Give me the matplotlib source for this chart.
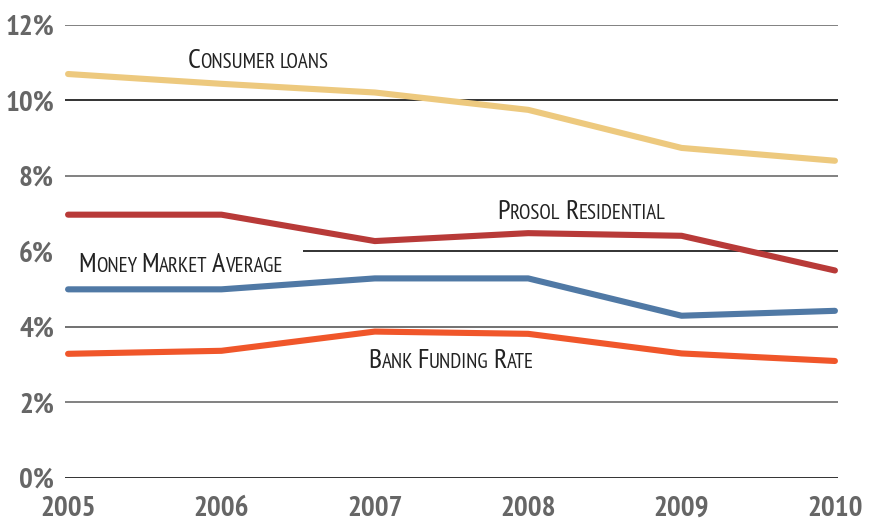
import matplotlib
matplotlib.use("Agg")
import matplotlib.pyplot as plt
from matplotlib.offsetbox import TextArea, HPacker, AnnotationBbox

years = [2005, 2006, 2007, 2008, 2009, 2010]
consumer_loans = [10.70, 10.44, 10.21, 9.75, 8.74, 8.40]
prosol_residential = [6.97, 6.97, 6.27, 6.48, 6.41, 5.49]
money_market = [4.99, 4.99, 5.28, 5.28, 4.29, 4.42]
bank_funding = [3.28, 3.36, 3.87, 3.81, 3.29, 3.09]
y_ticks = [0, 2, 4, 6, 8, 10, 12]
y_tick_labels = ["0%", "2%", "4%", "6%", "8%", "10%", "12%"]

FONT = "PT Sans Narrow"

fig = plt.figure(figsize=(8.73, 5.22), dpi=100)
ax = fig.add_axes([65 / 873, 1 - 477.5 / 522, (838 - 65) / 873, (477.5 - 25) / 522])
ax.set_xlim(2005 - 0.02, 2010 + 0.02)
ax.set_ylim(0, 12)
for s in ax.spines.values():
    s.set_visible(False)

# gridlines (the 6% one stops short where the label sits)
grid_colors = {0: "#222222", 2: "#777777", 4: "#666666", 6: "#222222",
               8: "#777777", 10: "#222222", 12: "#777777"}
for v in y_ticks:
    start = 2006.53 if v == 6 else 2005 - 0.02
    ax.hlines(v, start, 2010 + 0.02, color=grid_colors[v], lw=1.3, zorder=1)

series = [
    (consumer_loans, "#EDC97E"),
    (prosol_residential, "#B83A38"),
    (money_market, "#5079A5"),
    (bank_funding, "#F0562A"),
]
for vals, col in series:
    ax.plot(years, vals, color=col, lw=4.4, solid_capstyle="round",
            solid_joinstyle="round", zorder=3)

ax.set_yticks(y_ticks)
ax.set_yticklabels(y_tick_labels)
ax.set_xticks(years)
ax.set_xticklabels([str(y) for y in years])
ax.tick_params(axis="both", length=0, labelcolor="#666666")
ax.tick_params(axis="y", pad=8)
ax.tick_params(axis="x", pad=13)
for lab in ax.get_xticklabels() + ax.get_yticklabels():
    lab.set_fontfamily(FONT)
    lab.set_fontweight("bold")
    lab.set_fontsize(21)


def small_caps(text, x, y, big=20, small=15):
    parts = []
    props_big = dict(fontsize=big, family=FONT, color="#222222")
    props_small = dict(fontsize=small, family=FONT, color="#222222")
    for i, word in enumerate(text.split(" ")):
        if i > 0:
            parts.append(TextArea(" ", textprops=props_small))
        if word[0].isupper():
            parts.append(TextArea(word[0], textprops=props_big))
            rest = word[1:]
        else:
            rest = word
        if rest:
            parts.append(TextArea(rest.upper(), textprops=props_small))
    box = HPacker(children=parts, align="baseline", pad=0, sep=0)
    ab = AnnotationBbox(box, (x, y), xycoords="data", box_alignment=(0, 0),
                        frameon=False, pad=0)
    ax.add_artist(ab)


small_caps("Consumer loans", 2005.78, 10.74)
small_caps("Prosol Residential", 2007.80, 6.72)
small_caps("Money Market Average", 2005.065, 5.32)
small_caps("Bank Funding Rate", 2006.96, 2.76)

fig.savefig("out.png", dpi=100)
